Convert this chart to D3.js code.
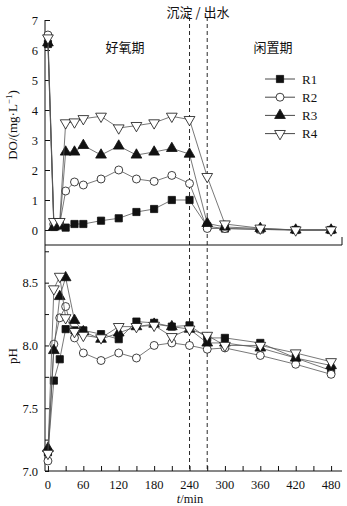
<!DOCTYPE html>
<html>
<head>
<meta charset="utf-8">
<script src="https://cdn.jsdelivr.net/npm/d3@7"></script>
<style>
  body { margin: 0; background: #fff; }
  svg text { font-family: "Liberation Serif", "Times New Roman", serif; fill: #111; }
  .cn { font-family: "Noto Sans CJK SC", sans-serif; }
</style>
</head>
<body>
<div id="chart"></div>
<script>
const times = [0, 10, 20, 30, 45, 60, 90, 120, 150, 180, 210, 240, 270, 300, 360, 420, 480];
const seriesNames = ['R1', 'R2', 'R3', 'R4'];

const doR1 = [6.2, 0.1, 0.15, 0.08, 0.2, 0.2, 0.31, 0.39, 0.6, 0.7, 1.0, 1.0, 0.12, 0.05, 0.02, 0, 0];
const doR2 = [6.5, 0.2, 0.2, 1.3, 1.6, 1.5, 1.7, 2.0, 1.7, 1.62, 1.82, 1.55, 0.05, 0.05, 0.02, 0, 0];
const doR3 = [6.24, 0.1, 0.15, 2.6, 2.6, 2.82, 2.5, 2.8, 2.5, 2.6, 2.72, 2.53, 0.22, 0.1, 0.05, 0, 0];
const doR4 = [6.4, 0.28, 0.28, 3.57, 3.6, 3.71, 3.79, 3.4, 3.48, 3.57, 3.79, 3.68, 1.78, 0.2, 0.06, 0, 0];

const phR1 = [7.15, 7.72, 7.89, 8.13, 8.12, 8.12, 8.09, 8.05, 8.19, 8.18, 8.15, 8.16, 8.06, 8.06, 8.02, 7.90, 7.80];
const phR2 = [7.08, 8.01, 8.22, 8.31, 8.06, 7.94, 7.88, 7.94, 7.90, 8.0, 8.02, 8.0, 7.97, 7.98, 7.92, 7.85, 7.77];
const phR3 = [7.18, 7.96, 8.39, 8.54, 8.20, 8.11, 8.05, 8.10, 8.15, 8.17, 8.15, 8.13, 8.02, 8.02, 7.98, 7.90, 7.84];
const phR4 = [7.14, 8.45, 8.55, 8.22, 8.11, 8.08, 8.06, 8.15, 8.15, 8.16, 8.07, 8.13, 8.08, 8.0, 8.0, 7.94, 7.87];

const doTicks = [0, 1, 2, 3, 4, 5, 6, 7];
const phTicks = [7.0, 7.5, 8.0, 8.5];
const timeTicks = [0, 60, 120, 180, 240, 300, 360, 420, 480];
const phaseTimes = [240, 270];

const W = 347, H = 506;
const svg = d3.select('#chart').append('svg').attr('width', W).attr('height', H);

const x = d3.scaleLinear().domain([-5, 498.5]).range([45, 342]);
const yDO = d3.scaleLinear().domain([-0.5, 7]).range([245, 20]);
const yPH = d3.scaleLinear().domain([7.0, 8.8]).range([471, 245]);

const markers = [
  { type: d3.symbolSquare, size: 52, fill: '#111', rot: 0 },
  { type: d3.symbolCircle, size: 50, fill: '#fff', rot: 0 },
  { type: d3.symbolTriangle, size: 50, fill: '#111', rot: 0 },
  { type: d3.symbolTriangle, size: 50, fill: '#fff', rot: 180 }
];

function drawSeries(g, y, values, i) {
  const pts = times.map((t, k) => [t, values[k]]);
  g.append('path')
    .attr('d', d3.line().x(d => x(d[0])).y(d => y(d[1]))(pts))
    .attr('fill', 'none').attr('stroke', '#555').attr('stroke-width', 0.8);
  const m = markers[i];
  g.selectAll(null).data(pts).enter().append('path')
    .attr('d', d3.symbol().type(m.type).size(m.size))
    .attr('transform', d => `translate(${x(d[0])},${y(d[1])}) rotate(${m.rot})`)
    .attr('fill', m.fill).attr('stroke', '#111').attr('stroke-width', 0.8);
}

// top panel axis
const gTop = svg.append('g');
gTop.append('g').attr('transform', 'translate(45,0)')
  .call(d3.axisRight(yDO).tickValues(doTicks).tickSize(5).tickFormat(''))
  .call(g => g.select('.domain').remove());
gTop.append('line').attr('x1', 45).attr('x2', 45).attr('y1', 20).attr('y2', 245).attr('stroke', '#111');
gTop.selectAll('.tk').data(doTicks).enter().append('text')
  .attr('x', 38).attr('y', d => yDO(d) + 4.5).attr('text-anchor', 'end')
  .style('font-size', '12.5px').text(d => d);
gTop.append('line').attr('x1', 45).attr('x2', 342).attr('y1', 245).attr('y2', 245).attr('stroke', '#111').attr('stroke-width', 1.2);
gTop.append('line').attr('x1', 342).attr('x2', 342).attr('y1', 237).attr('y2', 245).attr('stroke', '#111');

// bottom panel axes
const gBot = svg.append('g');
gBot.append('g').attr('transform', 'translate(45,0)')
  .call(d3.axisRight(yPH).tickValues(d3.range(7.0, 8.81, 0.25)).tickSize(4).tickFormat(''))
  .call(g => g.select('.domain').remove());
gBot.append('line').attr('x1', 45).attr('x2', 45).attr('y1', 245).attr('y2', 471).attr('stroke', '#111');
gBot.selectAll('.tk').data(phTicks).enter().append('text')
  .attr('x', 38).attr('y', d => yPH(d) + 4.5).attr('text-anchor', 'end')
  .style('font-size', '12.5px').text(d => d.toFixed(1));
gBot.append('g').attr('transform', 'translate(0,471)')
  .call(d3.axisTop(x).tickValues(d3.range(0, 481, 30)).tickSize(5).tickFormat(''))
  .call(g => g.select('.domain').remove());
gBot.append('line').attr('x1', 45).attr('x2', 342).attr('y1', 471).attr('y2', 471).attr('stroke', '#111');
gBot.selectAll('.xt').data(timeTicks).enter().append('text')
  .attr('x', d => x(d)).attr('y', 489).attr('text-anchor', 'middle')
  .style('font-size', '12.5px').text(d => d);
svg.selectAll('.tick line').attr('stroke', '#111');

// phase dashed lines
svg.selectAll('.phase').data(phaseTimes).enter().append('line')
  .attr('x1', d => x(d)).attr('x2', d => x(d)).attr('y1', 17).attr('y2', 471)
  .attr('stroke', '#111').attr('stroke-width', 0.9).attr('stroke-dasharray', '4,3');

// series
const doData = [doR1, doR2, doR3, doR4];
const phData = [phR1, phR2, phR3, phR4];
const gDO = svg.append('g');
const gPH = svg.append('g');
doData.forEach((v, i) => drawSeries(gDO, yDO, v, i));
phData.forEach((v, i) => drawSeries(gPH, yPH, v, i));

// labels
svg.append('text').attr('class', 'cn').attr('x', 198).attr('y', 17).attr('text-anchor', 'middle')
  .style('font-size', '13px').text('沉淀 / 出水');
svg.append('text').attr('class', 'cn').attr('x', 125).attr('y', 52).attr('text-anchor', 'middle')
  .style('font-size', '13px').text('好氧期');
svg.append('text').attr('class', 'cn').attr('x', 273).attr('y', 52).attr('text-anchor', 'middle')
  .style('font-size', '13px').text('闲置期');

const doLabel = svg.append('text').attr('transform', 'translate(17,125) rotate(-90)')
  .attr('text-anchor', 'middle').style('font-size', '13px');
doLabel.append('tspan').text('DO/(mg·L');
doLabel.append('tspan').attr('dy', -5).style('font-size', '9px').text('−1');
doLabel.append('tspan').attr('dy', 5).text(')');

svg.append('text').attr('transform', 'translate(17,356) rotate(-90)')
  .attr('text-anchor', 'middle').style('font-size', '13px').text('pH');

const tLabel = svg.append('text').attr('x', 190).attr('y', 503).attr('text-anchor', 'middle').style('font-size', '12.5px');
tLabel.append('tspan').style('font-style', 'italic').text('t');
tLabel.append('tspan').text('/min');

// legend
const legend = svg.append('g');
seriesNames.forEach((name, i) => {
  const ly = 79 + i * 18.2;
  legend.append('line').attr('x1', 265).attr('x2', 295).attr('y1', ly).attr('y2', ly)
    .attr('stroke', '#333').attr('stroke-width', 0.9);
  const m = markers[i];
  legend.append('path').attr('d', d3.symbol().type(m.type).size(m.size))
    .attr('transform', `translate(280,${ly}) rotate(${m.rot})`)
    .attr('fill', m.fill).attr('stroke', '#111').attr('stroke-width', 0.8);
  legend.append('text').attr('x', 302).attr('y', ly + 4.5).style('font-size', '13px').text(name);
});
</script>
</body>
</html>
